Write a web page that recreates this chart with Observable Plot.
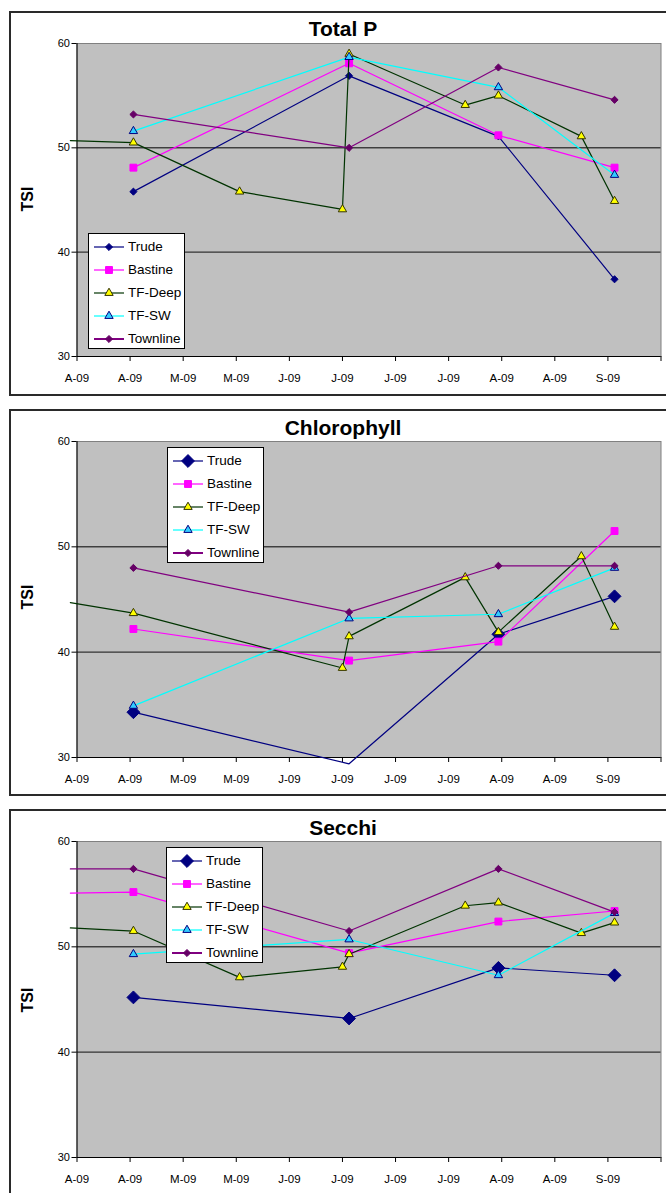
<!DOCTYPE html>
<html>
<head>
<meta charset="utf-8">
<script src="https://cdn.jsdelivr.net/npm/d3@7"></script>
<script src="https://cdn.jsdelivr.net/npm/@observablehq/plot@0.6"></script>
<style>
  html, body { margin: 0; padding: 0; background: #fff; }
  #page { position: relative; width: 666px; height: 1193px; overflow: hidden; font-family: "Liberation Sans", Arial, sans-serif; }
  .frame { position: absolute; border: 2px solid #2a2a2a; box-sizing: border-box; }
  .panel { position: absolute; left: 0; }
  .title { position: absolute; width: 666px; left: 0; text-align: center; font-weight: bold; font-size: 21px; padding-left: 20px; box-sizing: border-box; }
  .ylab { position: absolute; font-weight: bold; font-size: 16px; transform: rotate(-90deg); transform-origin: center; }
  .legend { position: absolute; background: #fff; border: 1px solid #000; box-sizing: border-box; padding: 1px 0 0 4px; }
  .legend .row { height: 23px; display: flex; align-items: center; font-size: 13.5px; }
  .legend svg { margin-right: 3px; }
</style>
</head>
<body>
<div id="page"></div>
<script>
// ---------- data ----------
const stations = ["Trude", "Bastine", "TF-Deep", "TF-SW", "Townline"];
const xTickLabels = ["A-09","A-09","M-09","M-09","J-09","J-09","J-09","J-09","A-09","A-09","S-09",""];
const axisStart = "2009-04-01";
const tickStepDays = 16;
const tickCount = 12;
const yTicks = [30, 40, 50, 60];

const mainDates = ["2009-03-30","2009-04-18","2009-06-22","2009-08-06","2009-09-10"];
const deepDates = ["2009-03-30","2009-04-18","2009-05-20","2009-06-20","2009-06-22","2009-07-27","2009-08-06","2009-08-31","2009-09-10"];

// Total P
const totalP_Trude    = [null, 45.8, 56.9, 51.1, 37.4];
const totalP_Bastine  = [null, 48.1, 58.1, 51.2, 48.1];
const totalP_TFDeep   = [50.7, 50.5, 45.8, 44.1, 59.0, 54.1, 55.0, 51.1, 44.9];
const totalP_TFSW     = [null, 51.6, 58.7, 55.8, 47.4];
const totalP_Townline = [null, 53.2, 50.0, 57.7, 54.6];

// Chlorophyll
const chl_Trude    = [null, 34.3, 29.4, 41.7, 45.3];
const chl_Bastine  = [null, 42.2, 39.2, 41.0, 51.5];
const chl_TFDeep   = [44.7, 43.7, null, 38.5, 41.5, 47.1, 41.9, 49.1, 42.4];
const chl_TFSW     = [null, 34.9, 43.2, 43.6, 48.0];
const chl_Townline = [null, 48.0, 43.8, 48.2, 48.2];

// Secchi
const secchi_Trude    = [null, 45.2, 43.2, 48.0, 47.3];
const secchi_Bastine  = [55.1, 55.2, 49.4, 52.4, 53.4];
const secchi_TFDeep   = [51.8, 51.5, 47.1, 48.1, 49.3, 53.9, 54.2, 51.3, 52.3];
const secchi_TFSW     = [null, 49.3, 50.7, 47.3, 53.2];
const secchi_Townline = [57.4, 57.4, 51.5, 57.4, 53.3];

// ---------- styles ----------
const styles = {
  "Trude":    {stroke: "#000080", symbol: "diamond2", fill: "#000080", mstroke: "#000080", r: 3.2},
  "Bastine":  {stroke: "#FF00FF", symbol: "square",   fill: "#FF00FF", mstroke: "#FF00FF", r: 3.9},
  "TF-Deep":  {stroke: "#003300", symbol: "triangle", fill: "#FFFF00", mstroke: "#333300", r: 3.1},
  "TF-SW":    {stroke: "#00FFFF", symbol: "triangle", fill: "#33CCFF", mstroke: "#000080", r: 3.1},
  "Townline": {stroke: "#800080", symbol: "diamond2", fill: "#660066", mstroke: "#660066", r: 3.2}
};

const DAY = 864e5;
const start = new Date(axisStart);
const ticks = d3.range(tickCount).map(i => new Date(+start + i * tickStepDays * DAY));
const end = ticks[ticks.length - 1];
const labelFor = d => xTickLabels[Math.round((d - start) / (tickStepDays * DAY))] ?? "";

function rows(dates, values, station) {
  return dates.map((d, i) => ({date: new Date(d), value: values[i], station}))
    .filter(r => r.value != null);
}

function panelData(arrs) {
  return [
    rows(mainDates, arrs[0], "Trude"),
    rows(mainDates, arrs[1], "Bastine"),
    rows(deepDates, arrs[2], "TF-Deep"),
    rows(mainDates, arrs[3], "TF-SW"),
    rows(mainDates, arrs[4], "Townline")
  ];
}

function makePlot(series, opts) {
  const marks = [
    Plot.frame({fill: "#C0C0C0", stroke: "#808080"}),
    Plot.ruleY([50], {stroke: "#000", strokeWidth: 1}),
    Plot.ruleY([40], {stroke: "#333", strokeWidth: 1.4}),
    Plot.ruleY([30], {stroke: "#000", strokeWidth: 1}),
    Plot.ruleX([start], {stroke: "#000", strokeWidth: 1}),
    Plot.axisX({ticks, tickFormat: labelFor, tickSize: 5, tickPadding: 12, fontSize: 11.5, label: null}),
    Plot.axisY({ticks: yTicks, tickSize: 5, tickPadding: 2, fontSize: 11, label: null})
  ];
  series.forEach(data => {
    const st = data[0].station;
    const s = styles[st];
    const r = (opts.bigTrude && st === "Trude") ? 5.8 : s.r;
    marks.push(Plot.line(data, {x: "date", y: "value", stroke: s.stroke, strokeWidth: 1.2}));
    marks.push(Plot.dot(data.filter(d => d.date >= start && d.value >= 30), {
      x: "date", y: "value", symbol: () => s.symbol, fill: s.fill, stroke: s.mstroke, strokeWidth: 1, r
    }));
  });
  return Plot.plot({
    width: 666,
    height: opts.height,
    marginLeft: 76.5,
    marginRight: 5.5,
    marginTop: opts.marginTop,
    marginBottom: opts.marginBottom,
    style: {background: "transparent", fontFamily: "'Liberation Sans', Arial, sans-serif", fontSize: "11px", color: "#000"},
    x: {type: "utc", domain: [start, end]},
    y: {domain: [30, 60]},
    symbol: {type: "identity"},
    marks
  });
}

function legend(parent, left, top, bigTrude) {
  const div = document.createElement("div");
  div.className = "legend";
  div.style.left = left + "px";
  div.style.top = top + "px";
  div.style.width = "97px";
  div.style.height = "116px";
  stations.forEach(st => {
    const s = styles[st];
    const row = document.createElement("div");
    row.className = "row";
    const svg = d3.create("svg").attr("width", 32).attr("height", 14);
    svg.append("line").attr("x1", 1).attr("x2", 31).attr("y1", 7).attr("y2", 7)
      .attr("stroke", s.stroke).attr("stroke-width", st === "Townline" ? 2 : 1.2);
    const r = (bigTrude && st === "Trude") ? 5.8 : s.r;
    const symMap = {diamond2: d3.symbolDiamond2, square: d3.symbolSquare, triangle: d3.symbolTriangle};
    svg.append("path").attr("transform", "translate(16,7)")
      .attr("d", d3.symbol(symMap[s.symbol], Math.PI * r * r)())
      .attr("fill", s.fill).attr("stroke", s.mstroke).attr("stroke-width", 1);
    row.appendChild(svg.node());
    const span = document.createElement("span");
    span.textContent = st;
    row.appendChild(span);
    div.appendChild(row);
  });
  parent.appendChild(div);
}

const page = document.getElementById("page");

function addFrame(top, height) {
  const f = document.createElement("div");
  f.className = "frame";
  f.style.left = "9px"; f.style.top = top + "px";
  f.style.width = "680px"; f.style.height = height + "px";
  page.appendChild(f);
}
function addTitle(text, top) {
  const t = document.createElement("div");
  t.className = "title"; t.textContent = text; t.style.top = top + "px";
  page.appendChild(t);
}
function addYLab(centerY) {
  const t = document.createElement("div");
  t.className = "ylab"; t.textContent = "TSI";
  t.style.left = "13px"; t.style.top = (centerY - 10) + "px";
  t.style.width = "30px"; t.style.textAlign = "center";
  page.appendChild(t);
}
function addPanel(svg, top) {
  const d = document.createElement("div");
  d.className = "panel"; d.style.top = top + "px";
  d.appendChild(svg);
  page.appendChild(d);
}

addFrame(11, 385);
addFrame(409, 387);
addFrame(809, 400);

// Panel 1: Total P
addPanel(makePlot(panelData([totalP_Trude, totalP_Bastine, totalP_TFDeep, totalP_TFSW, totalP_Townline]),
  {height: 400, marginTop: 43, marginBottom: 44, bigTrude: false}), 0);
addTitle("Total P", 17);
addYLab(200);
legend(page, 88, 233, false);

// Panel 2: Chlorophyll
addPanel(makePlot(panelData([chl_Trude, chl_Bastine, chl_TFDeep, chl_TFSW, chl_Townline]),
  {height: 400, marginTop: 41, marginBottom: 43, bigTrude: true}), 400);
addTitle("Chlorophyll", 416);
addYLab(598);
legend(page, 167, 447, true);

// Panel 3: Secchi
addPanel(makePlot(panelData([secchi_Trude, secchi_Bastine, secchi_TFDeep, secchi_TFSW, secchi_Townline]),
  {height: 393, marginTop: 41, marginBottom: 36, bigTrude: true}), 800);
addTitle("Secchi", 816);
addYLab(1001);
legend(page, 166, 847, true);
</script>
</body>
</html>
